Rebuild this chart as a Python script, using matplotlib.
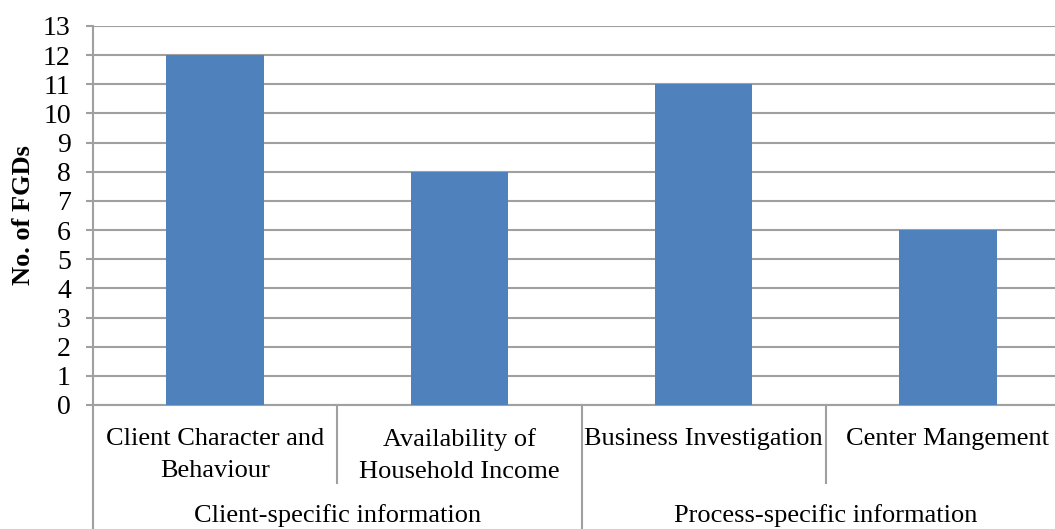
import matplotlib
matplotlib.use("Agg")
import matplotlib.pyplot as plt

# ── Data ─────────────────────────────────────────────────────────────────────
categories = ["Client Character and\nBehaviour",
              "Availability of\nHousehold Income",
              "Business Investigation",
              "Center Mangement"]
counts = [12, 8, 11, 6]
groups = ["Client-specific information", "Process-specific information"]
group_sizes = [2, 2]
y_ticks = list(range(0, 14))

# ── Style ────────────────────────────────────────────────────────────────────
plt.rcParams.update({
    "font.family": ["Liberation Serif", "DejaVu Serif"],
    "font.size": 19,
})
BAR = "#4F81BD"
GRID = "#A0A0A0"
FS = 19

W, H = 1055, 529
fig = plt.figure(figsize=(W / 100, H / 100), dpi=100)
# plot area runs slightly past the right edge of the canvas
left, right, top, bottom = 93, 1070, 26, 405
ax = fig.add_axes([left / W, 1 - bottom / H, (right - left) / W, (bottom - top) / H])
span = bottom - top

x = [i + 0.5 for i in range(len(categories))]
ax.bar(x, counts, width=0.4, color=BAR, zorder=3)

ax.set_xlim(0, len(categories))
ax.set_ylim(0, 13)
ax.set_yticks(y_ticks)
ax.yaxis.grid(True, color=GRID, linewidth=1.5, zorder=0)
ax.set_axisbelow(True)
ax.set_xticks([])
ax.tick_params(axis="y", length=5, width=1.5, color=GRID, pad=11, labelsize=20)

for s in ("top", "right", "bottom"):
    ax.spines[s].set_visible(False)
ax.spines["left"].set_color(GRID)
ax.spines["left"].set_linewidth(1.5)

ax.set_ylabel("No. of FGDs", fontweight="bold", fontsize=FS, labelpad=6)

# ── Two-level category axis ──────────────────────────────────────────────────
tr = ax.get_xaxis_transform()
lvl1 = -78 / span
lvl2 = -(H - bottom) / span
lk = dict(transform=tr, color=GRID, linewidth=1.5, clip_on=False)

ax.plot([0, len(categories)], [0, 0], **lk)
ax.plot([0, 0], [0, lvl2], **lk)

for xi, lab in zip(x, categories):
    ax.text(xi, -23 / span, lab, transform=tr, ha="center", va="top",
            fontsize=FS, linespacing=1.6)

start = 0
for g, n in zip(groups, group_sizes):
    for b in range(start + 1, start + n):
        ax.plot([b, b], [0, lvl1], **lk)
    end = start + n
    ax.plot([end, end], [0, lvl2], **lk)
    ax.text(start + n / 2, -111 / span, g, transform=tr,
            ha="center", va="center", fontsize=FS)
    start = end

fig.savefig("out.png", dpi=100, facecolor="white")
